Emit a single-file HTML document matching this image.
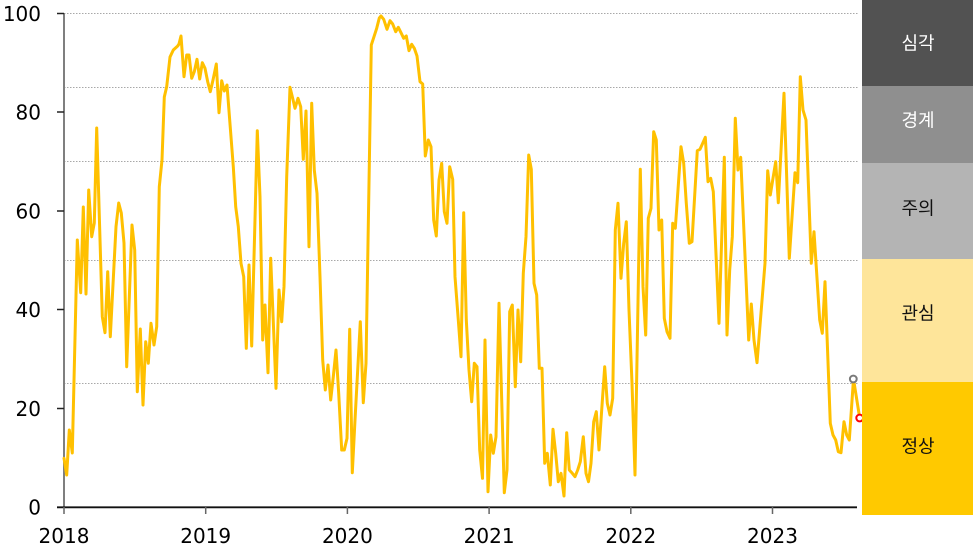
<!DOCTYPE html>
<html>
<head>
<meta charset="utf-8">
<style>
  html, body { margin: 0; padding: 0; background: #ffffff; }
  body { width: 977px; height: 549px; overflow: hidden; }
  svg { display: block; }
  .ax { font-family: "DejaVu Sans", "Liberation Sans", sans-serif; font-size: 20px; fill: #000; }
  .band { font-family: "Liberation Sans", "Noto Sans CJK KR", sans-serif; font-size: 18px; text-anchor: middle; }
</style>
</head>
<body>
<svg width="977" height="549" viewBox="0 0 977 549" xmlns="http://www.w3.org/2000/svg">
  <rect x="0" y="0" width="977" height="549" fill="#ffffff"/>

  <!-- gridlines -->
  <g stroke="#a8a8a8" stroke-width="1" stroke-dasharray="1.5 1.5">
    <line x1="64" y1="13.5" x2="858" y2="13.5"/>
    <line x1="64" y1="87.5" x2="858" y2="87.5"/>
    <line x1="64" y1="161.5" x2="858" y2="161.5"/>
    <line x1="64" y1="260.5" x2="858" y2="260.5"/>
    <line x1="64" y1="383.5" x2="858" y2="383.5"/>
  </g>

  <!-- y axis -->
  <line x1="64" y1="13" x2="64" y2="508" stroke="#7f7f7f" stroke-width="2"/>
  <g stroke="#222" stroke-width="1.5">
    <line x1="57" y1="13.5" x2="64" y2="13.5"/>
    <line x1="57" y1="112" x2="64" y2="112"/>
    <line x1="57" y1="211" x2="64" y2="211"/>
    <line x1="57" y1="309.5" x2="64" y2="309.5"/>
    <line x1="57" y1="408.5" x2="64" y2="408.5"/>
  </g>
  <!-- x axis -->
  <line x1="57" y1="507.3" x2="857" y2="507.3" stroke="#111" stroke-width="1.8"/>
  <g stroke="#666" stroke-width="1.5">
    <line x1="64" y1="507" x2="64" y2="514"/>
    <line x1="205.7" y1="507" x2="205.7" y2="514"/>
    <line x1="347.4" y1="507" x2="347.4" y2="514"/>
    <line x1="489.1" y1="507" x2="489.1" y2="514"/>
    <line x1="630.8" y1="507" x2="630.8" y2="514"/>
    <line x1="772.5" y1="507" x2="772.5" y2="514"/>
  </g>

  <!-- y labels -->
  <g class="ax" text-anchor="end">
    <text x="41" y="20.8">100</text>
    <text x="41" y="119.3">80</text>
    <text x="41" y="218.3">60</text>
    <text x="41" y="316.8">40</text>
    <text x="41" y="415.8">20</text>
    <text x="41" y="514.6">0</text>
  </g>
  <!-- x labels -->
  <g class="ax" text-anchor="middle">
    <text x="64" y="543">2018</text>
    <text x="205.7" y="543">2019</text>
    <text x="347.4" y="543">2020</text>
    <text x="489.1" y="543">2021</text>
    <text x="630.8" y="543">2022</text>
    <text x="772.5" y="543">2023</text>
  </g>

  <!-- series -->
  <polyline fill="none" stroke="#FFC000" stroke-width="3" stroke-linejoin="round" stroke-linecap="round"
    points="64,458.3 66.7,475 69.3,430 72.3,453 77.3,240 80.7,292.7 83.3,207 86,294 88.7,190 91.7,236.7 94.3,223 96.7,128 102.3,316.7 105,332.7 107.7,271.7 110.3,336.7 116,226.7 118.7,203 121.3,213 124,243 126.7,366.7 132,225 134.7,250 137.3,391.7 140.3,329 143,405 145.7,341.7 148.3,363.3 151,323.3 154,345 156.7,326.7 159.3,186.7 162,160 164.3,97 166.7,86.7 170,57 173.3,50 177.7,46 179,44 181,36 184,76.7 186.7,55 189,55 191.7,78.3 194.3,71.7 197,59.3 199.7,79 202.3,62.7 205,68.3 207.7,81.7 210.3,91.7 213,80 216.3,64 219,112.7 221.7,80.7 224.3,91 227,85 233.3,166.7 235.7,206.7 238.3,226.7 241,263.3 243.7,276.7 246.3,348.3 249,265 251.7,346 257.3,130.7 260,196.7 262.7,340 265,305 268,372.7 270.7,258.3 276,388.3 279,290 281.7,321.7 284,286.7 286.7,176.7 290,87.3 292.7,98.3 295,108.3 298,98.3 300.7,106.7 303.3,159.3 306,111 309,246.7 311.7,103.3 314.3,170 317,193.3 320,276.7 322.7,360 325.3,390 328,365 330.7,400 333.3,376.7 336,350 338.7,393.3 341.7,450 344.3,450 347,438.3 349.7,329.3 352.3,472.7 355,420 357.7,370 360.3,321.7 363.3,402.7 366,363.3 371.3,45 374,36.7 376.7,28.3 379.3,18 381,16 383.7,19.3 387,29.3 390,20.7 392.7,24 395.7,31.7 398.3,27.3 401,32.7 403.7,38.3 406.3,36 409,50.7 411.7,44.3 414.3,48.3 417,56 420,81.7 422.7,84 425.3,156 428.3,140 431,146.7 433.7,220 436.3,236 439,180 441.7,163.3 444.3,211.7 447,223.3 449.7,166.7 452.7,179.3 455,276.7 458.3,320 461,356.7 463.7,212.7 466.3,320 469,370 471.7,401.7 474.3,363.3 477,366.7 479.7,450 482.5,478.3 485,340 488,491.7 490.7,435 493.3,453.3 496,436.7 499,303.3 504.3,492.7 507,470 509.7,311.7 512.3,305 515.3,386.7 518,310 520.7,361.7 523.3,273.3 526,236.7 528.7,155 531.3,169.3 534,283.3 536.7,295 539.3,368.3 542,368.3 544.7,463.3 547.3,453.3 550.3,485 553,429.3 555.7,453.3 558.3,481.7 561,473.3 564,496 566.7,432.7 569.3,470 572.3,473.3 575,476.7 577.7,470 580.3,461.7 583.3,436.7 586,473.3 588.5,481.7 591,463.3 593.7,421.7 596.3,411.7 599,450 601.7,410 604.7,366.7 607.3,403.3 610,415 612.7,398.3 615.3,230 618,203.3 621,278.3 623.7,243.3 626.3,221.7 629,310 632,383.3 635,475 640.3,169.3 643,286.7 645.7,335 648.3,218.3 651,208.3 653.7,131.7 656.3,140 659,230 661.7,220 664.3,318.3 667,331.7 670,338.3 672.7,223.3 675.3,228.3 681,146.7 683.7,163.3 686.3,203.3 689.3,243.3 692,241.7 697.3,150.7 700,149.3 702.7,143.3 705.3,137.3 708,181.7 710.7,178.3 713.3,191.7 719,323.3 724.3,157.3 727,335 729.7,270 732.3,236.7 735.3,118.3 738,170 740.7,157.3 748.7,340 751.3,304 754,340 757,362.7 765,263.3 767.7,170.7 770.3,195 773,178.3 775.7,161.7 778.3,202.7 784,93.3 789.3,258.3 795,172.7 797.7,182.7 800.3,76.7 803,110 806,120 811.3,263.3 814,231.7 819.7,320 822.3,333.3 825,281.7 830.3,423.3 833,435 835.7,440 838.3,451.7 841,452.7 844,421.7 846.7,435 849.3,440 853.5,379 859.7,418"/>

  <!-- end markers -->
  <circle cx="853.3" cy="379" r="3.4" fill="#ffffff" stroke="#7a7a7a" stroke-width="2"/>
  <circle cx="859.7" cy="418" r="3.4" fill="#ffffff" stroke="#ff0000" stroke-width="2"/>

  <!-- status bands -->
  <rect x="862" y="0" width="111" height="86" fill="#525252"/>
  <rect x="862" y="86" width="111" height="77" fill="#8f8f8f"/>
  <rect x="862" y="163" width="111" height="96" fill="#b4b4b4"/>
  <rect x="862" y="259" width="111" height="123" fill="#fee59a"/>
  <rect x="862" y="382" width="111" height="133" fill="#ffc900"/>

  <text class="band" x="918" y="49.5" fill="#ffffff">심각</text>
  <text class="band" x="918" y="126.5" fill="#ffffff">경계</text>
  <text class="band" x="918" y="214.5" fill="#111111">주의</text>
  <text class="band" x="918" y="319.5" fill="#111111">관심</text>
  <text class="band" x="918" y="452.5" fill="#111111">정상</text>
</svg>
</body>
</html>
